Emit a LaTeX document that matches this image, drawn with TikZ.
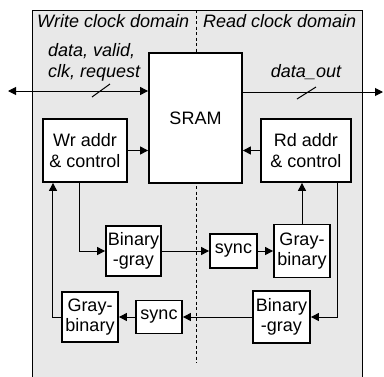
\documentclass[tikz,border=0pt]{standalone}
\usepackage{fontspec}
\setmainfont{Liberation Sans}
\usetikzlibrary{arrows.meta}
\definecolor{domgray}{HTML}{E8E8E8}
\begin{document}
\begin{tikzpicture}[x=1bp,y=-1bp,
  every node/.style={font=\fontsize{18bp}{20.5bp}\selectfont},
  blk/.style={draw,line width=1.8bp,fill=white,inner sep=0pt,align=center},
  wire/.style={line width=1bp},
  tip/.tip={Triangle[length=8bp,width=8bp]},
  arr/.style={wire,-tip},
  lbl/.style={inner sep=0pt,font=\fontsize{18bp}{20.5bp}\selectfont\itshape}]
\useasboundingbox (0,0) rectangle (384,377);
\clip (0,0) rectangle (384,377);
\draw[fill=domgray,line width=1bp] (32,10) rectangle (362,395);
\draw[dashed,line width=0.8bp,dash pattern=on 3bp off 2.5bp] (196,10) -- (196,363);
\node[lbl,anchor=base west] (wtitle) at (37,27) {Write clock domain};
\node[lbl,anchor=base west] (rtitle) at (203,27) {Read clock domain};
% blocks
\node[blk,minimum width=93bp,minimum height=130bp] (sram) at (195.5,118) {SRAM};
\node[blk,minimum width=84bp,minimum height=63bp] (wr) at (85,150.5) {Wr addr\\\& control};
\node[blk,minimum width=90bp,minimum height=63bp] (rd) at (306,150.5) {Rd addr\\\& control};
\node[blk,minimum width=55bp,minimum height=50bp] (bg1) at (133.5,251) {Binary\\-gray};
\node[blk,minimum width=47bp,minimum height=34bp] (sy1) at (233.5,251) {sync};
\node[blk,minimum width=56bp,minimum height=53bp] (gb1) at (302,251) {Gray-\\binary};
\node[blk,minimum width=57bp,minimum height=52bp] (bg2) at (281.5,317) {Binary\\-gray};
\node[blk,minimum width=46bp,minimum height=33bp] (sy2) at (159,317) {sync};
\node[blk,minimum width=56bp,minimum height=50bp] (gb2) at (90,317) {Gray-\\binary};
% bus labels
\node[lbl,anchor=base west,align=left] (inlbl) at (48,77) {data, valid,\\clk, request};
\node[lbl,anchor=base] (outlbl) at (306,77) {data\_out};
% buses
\coordinate (lin) at (8,91);
\coordinate (rout) at (383,92);
\draw[wire,tip-tip] (lin) -- (lin -| sram.west);
\draw[wire] (92,97) -- (110,84);
\draw[arr] (rout -| sram.east) -- (rout);
\draw[wire] (297,99) -- (316,87);
% control
\draw[arr] (wr.east) -- (wr.east -| sram.west);
\draw[arr] (rd.west) -- (rd.west -| sram.east);
\draw[arr] ([xshift=-6bp]wr.south) |- (bg1.west);
\draw[arr] (bg1.east) -- (sy1.west);
\draw[arr] (sy1.east) -- (gb1.west);
\draw[arr] (gb1.north) -- (gb1.north |- rd.south);
\draw[arr] ([xshift=31bp]rd.south) |- (bg2.east);
\draw[arr] (bg2.west) -- (sy2.east);
\draw[arr] (sy2.west) -- (gb2.east);
\draw[arr] (gb2.west) -| ([xshift=-32bp]wr.south);
\end{tikzpicture}
\end{document}
